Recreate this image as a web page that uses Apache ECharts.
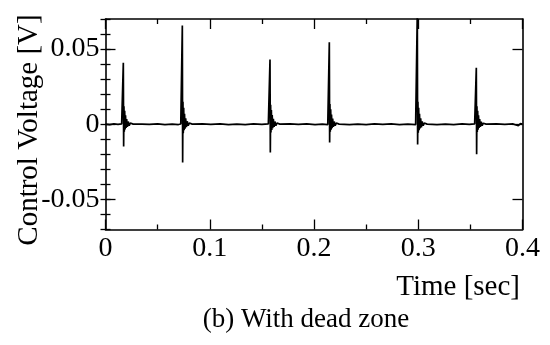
<!DOCTYPE html>
<html>
<head>
<meta charset="utf-8">
<script src="https://cdn.jsdelivr.net/npm/echarts@6/dist/echarts.min.js"></script>
<style>html,body{margin:0;padding:0;background:#fff;}#c{width:550px;height:345px;}</style>
</head>
<body>
<div id="c"></div>
<script>
// Tick labels
var xTicks = [0, 0.1, 0.2, 0.3, 0.4];
var yTicks = [-0.05, 0, 0.05];

// Baseline samples between spikes [time, voltage]
var baseline = [
  [0.000, 0.0001], [0.004, -0.0002], [0.008, 0.0002], [0.012, -0.0001], [0.0155, 0.0002],
  [0.028, -0.0002], [0.035, 0.0001], [0.042, -0.0001], [0.050, 0.0002], [0.057, -0.0002],
  [0.064, 0.0001], [0.070, -0.0002], [0.0722, 0.0002],
  [0.085, -0.0002], [0.093, 0.0002], [0.101, -0.0001], [0.110, 0.0002], [0.118, -0.0002],
  [0.126, 0.0001], [0.134, -0.0002], [0.142, 0.0002], [0.150, -0.0001], [0.1562, 0.0002],
  [0.169, -0.0002], [0.177, 0.0002], [0.185, -0.0001], [0.193, 0.0002], [0.201, -0.0002],
  [0.208, 0.0001], [0.2132, -0.0002],
  [0.226, 0.0002], [0.234, -0.0002], [0.242, 0.0001], [0.250, -0.0002], [0.258, 0.0002],
  [0.266, -0.0001], [0.274, 0.0002], [0.282, -0.0002], [0.290, 0.0001], [0.2975, -0.0002],
  [0.310, 0.0002], [0.318, -0.0002], [0.326, 0.0001], [0.334, -0.0002], [0.342, 0.0002],
  [0.349, -0.0001], [0.3541, 0.0002],
  [0.367, -0.0002], [0.375, 0.0002], [0.383, -0.0001], [0.391, 0.0002], [0.396, -0.0010],
  [0.398, 0.0004], [0.400, 0.0001]
];

// Spikes with ringing [time, voltage]
var spike1 = [
  [0.0165, 0.0002], [0.0169, 0.0000], [0.0171, 0.0409], [0.0174, -0.0148], [0.0177, 0.0120],
  [0.0180, -0.0050], [0.0184, 0.0090], [0.0188, -0.0035], [0.0192, 0.0060], [0.0197, -0.0025],
  [0.0203, 0.0035], [0.0210, -0.0018], [0.0218, 0.0018], [0.0227, -0.0010], [0.0238, 0.0008],
  [0.0252, -0.0003], [0.0265, 0.0001]
];
var spike2 = [
  [0.0731, 0.0002], [0.0735, 0.0000], [0.0737, 0.0656], [0.0740, -0.0254], [0.0743, 0.0150],
  [0.0746, -0.0060], [0.0750, 0.0110], [0.0754, -0.0040], [0.0758, 0.0070], [0.0763, -0.0030],
  [0.0769, 0.0040], [0.0776, -0.0020], [0.0784, 0.0020], [0.0793, -0.0010], [0.0804, 0.0008],
  [0.0818, -0.0003], [0.0832, 0.0001]
];
var spike3 = [
  [0.1572, 0.0002], [0.1576, 0.0000], [0.1578, 0.0430], [0.1581, -0.0188], [0.1584, 0.0130],
  [0.1587, -0.0055], [0.1591, 0.0095], [0.1595, -0.0038], [0.1599, 0.0062], [0.1604, -0.0027],
  [0.1610, 0.0036], [0.1617, -0.0018], [0.1625, 0.0018], [0.1634, -0.0010], [0.1645, 0.0008],
  [0.1659, -0.0003], [0.1672, 0.0001]
];
var spike4 = [
  [0.2141, 0.0002], [0.2145, 0.0000], [0.2147, 0.0545], [0.2150, -0.0121], [0.2153, 0.0135],
  [0.2156, -0.0050], [0.2160, 0.0100], [0.2164, -0.0036], [0.2168, 0.0065], [0.2173, -0.0026],
  [0.2179, 0.0038], [0.2186, -0.0018], [0.2194, 0.0018], [0.2203, -0.0010], [0.2214, 0.0008],
  [0.2228, -0.0003], [0.2241, 0.0001]
];
var spike5 = [
  [0.2985, 0.0002], [0.2989, 0.0000], [0.2991, 0.0750], [0.2994, -0.0135], [0.2997, 0.0150],
  [0.3000, -0.0056], [0.3004, 0.0110], [0.3008, -0.0040], [0.3012, 0.0070], [0.3017, -0.0028],
  [0.3023, 0.0040], [0.3030, -0.0020], [0.3038, 0.0019], [0.3047, -0.0010], [0.3058, 0.0008],
  [0.3072, -0.0003], [0.3085, 0.0001]
];
var spike6 = [
  [0.3551, 0.0002], [0.3555, 0.0000], [0.3557, 0.0375], [0.3560, -0.0199], [0.3563, 0.0120],
  [0.3566, -0.0052], [0.3570, 0.0090], [0.3574, -0.0036], [0.3578, 0.0060], [0.3583, -0.0025],
  [0.3589, 0.0034], [0.3596, -0.0018], [0.3604, 0.0017], [0.3613, -0.0010], [0.3624, 0.0007],
  [0.3638, -0.0003], [0.3651, 0.0001]
];

var signal = baseline.concat(spike1, spike2, spike3, spike4, spike5, spike6)
  .sort(function (a, b) { return a[0] - b[0]; });

var FONT = 'Liberation Serif';
var FS = 28;
var black = '#000';

function fmt(v) {
  if (Math.abs(v) < 1e-9) return '0';
  return String(+v.toFixed(2));
}

var chart = echarts.init(document.getElementById('c'), null, { renderer: 'canvas' });

var yMajor = function (pos, labels) {
  return {
    type: 'value', position: pos, min: -0.07, max: 0.07, interval: 0.01,
    axisLine: { show: true, onZero: false, lineStyle: { color: black, width: 1.6 } },
    axisTick: { show: true, inside: true, length: 10, customValues: yTicks, lineStyle: { color: black, width: 1.3 } },
    axisLabel: { show: labels, customValues: yTicks, formatter: fmt, margin: 6,
      fontFamily: FONT, fontSize: FS, color: black },
    splitLine: { show: false }
  };
};
var yMinor = function (pos) {
  return {
    type: 'value', position: pos, min: -0.07, max: 0.07, interval: 0.01,
    axisLine: { show: false },
    axisTick: { show: true, inside: true, length: 5, lineStyle: { color: black, width: 1.3 } },
    axisLabel: { show: false },
    splitLine: { show: false }
  };
};
var xAx = function (pos, labels) {
  return {
    type: 'value', position: pos, min: 0, max: 0.4, interval: 0.1,
    axisLine: { show: true, onZero: false, lineStyle: { color: black, width: 1.6 } },
    axisTick: { show: true, inside: true, length: 10, lineStyle: { color: black, width: 1.3 } },
    minorTick: { show: true, splitNumber: 2, length: 5, lineStyle: { color: black, width: 1.3 } },
    axisLabel: { show: labels, formatter: fmt, margin: 5, fontFamily: FONT, fontSize: FS, color: black,
      customValues: xTicks },
    splitLine: { show: false }
  };
};

chart.setOption({
  animation: false,
  backgroundColor: '#fff',
  grid: { left: 105.5, right: 27.5, top: 19, bottom: 115.5, containLabel: false },
  xAxis: [xAx('bottom', true), xAx('top', false)],
  yAxis: [yMajor('left', true), yMinor('left'), yMajor('right', false), yMinor('right')],
  series: [{
    type: 'line', xAxisIndex: 0, yAxisIndex: 0, data: signal,
    showSymbol: false, symbol: 'none', clip: true,
    lineStyle: { color: black, width: 1.7 }
  }],
  graphic: [
    { type: 'text', x: 29, y: 130, rotation: Math.PI / 2,
      style: { text: 'Control Voltage [V]', fontFamily: FONT, fontSize: 29, fill: black,
        textAlign: 'center', textVerticalAlign: 'middle' } },
    { type: 'text', x: 520, y: 287,
      style: { text: 'Time [sec]', fontFamily: FONT, fontSize: 29, fill: black,
        textAlign: 'right', textVerticalAlign: 'middle' } },
    { type: 'text', x: 306, y: 320,
      style: { text: '(b) With dead zone', fontFamily: FONT, fontSize: 27, fill: black,
        textAlign: 'center', textVerticalAlign: 'middle' } }
  ]
});
</script>
</body>
</html>
